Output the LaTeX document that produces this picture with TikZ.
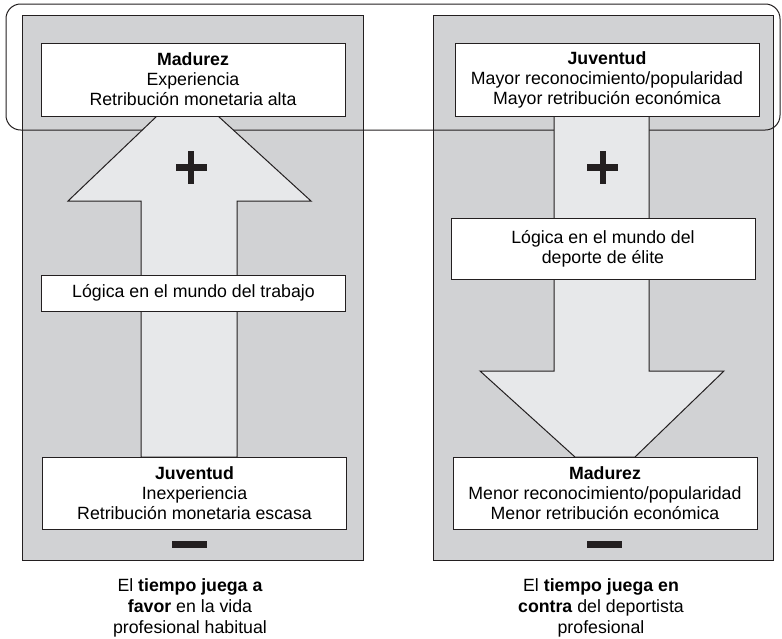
\documentclass[tikz,border=0pt]{standalone}
\usepackage{fontspec}
\setmainfont{Liberation Sans}
\definecolor{panelgray}{HTML}{D1D2D4}
\definecolor{arrowgray}{HTML}{E7E8EA}
\definecolor{inkline}{HTML}{231F20}
\begin{document}
\begin{tikzpicture}[x=0.75pt,y=-0.75pt,line width=0.75pt,
  panel/.style={draw=inkline,fill=panelgray},
  bigarrow/.style={draw=inkline,fill=arrowgray,line join=miter},
  textbox/.style={draw=inkline,fill=white,align=center,inner sep=0pt,
    minimum width=228pt,font=\fontsize{13.3}{15}\selectfont},
  caption/.style={align=center,font=\fontsize{13.3}{15.75}\selectfont}]
\useasboundingbox (0,0) rectangle (782,639);
\draw[panel] (22,15) rectangle (363,560);
\draw[panel] (433,15) rectangle (773,560);
\draw[inkline,rounded corners=11pt] (6,4) rectangle (780,130);
\draw[bigarrow] (141,457) -- (141,201) -- (68,201) -- (157,116) -- (218,116)
  -- (311,201) -- (237,201) -- (237,457) -- cycle;
\draw[bigarrow] (554,116) -- (554,371) -- (480,371) -- (575,457) -- (635,457)
  -- (724,371) -- (649,371) -- (649,116) -- cycle;
\begin{scope}[shift={(191,167.5)}]
\fill[inkline] (-15.5,-3.5) rectangle (15.5,3.5);
\fill[inkline] (-3,-16.5) rectangle (3,16.5);
\end{scope}
\begin{scope}[shift={(602.5,167)}]
\fill[inkline] (-15.5,-3.5) rectangle (15.5,3.5);
\fill[inkline] (-3,-16.5) rectangle (3,16.5);
\end{scope}
\fill[inkline] (172,541) rectangle (207,548);
\fill[inkline] (587,541) rectangle (622,548);
\node (madurezL) [textbox,minimum height=54.75pt] at (193,79.5)
  {\textbf{Madurez}\\Experiencia\\Retribución monetaria alta};
\node (logicaL) [textbox,minimum height=27pt] at (193.5,293)
  {Lógica en el mundo del trabajo};
\node (juventudL) [textbox,minimum height=54pt] at (194.5,493)
  {\textbf{Juventud}\\Inexperiencia\\Retribución monetaria escasa};
\node (juventudR) [textbox,minimum height=54.75pt] at (607,79.5)
  {\textbf{Juventud}\\Mayor reconocimiento/popularidad\\Mayor retribución económica};
\node (logicaR) [textbox,minimum height=45.75pt] at (603,248.5)
  {Lógica en el mundo del\\deporte de élite};
\node (madurezR) [textbox,minimum height=54pt] at (605,493)
  {\textbf{Madurez}\\Menor reconocimiento/popularidad\\Menor retribución económica};
\node (favor) [caption] at (190,608)
  {El \textbf{tiempo juega a}\\\textbf{favor} en la vida\\profesional habitual};
\node (contra) [caption] at (601,608)
  {El \textbf{tiempo juega en}\\\textbf{contra} del deportista\\profesional};
\end{tikzpicture}
\end{document}
